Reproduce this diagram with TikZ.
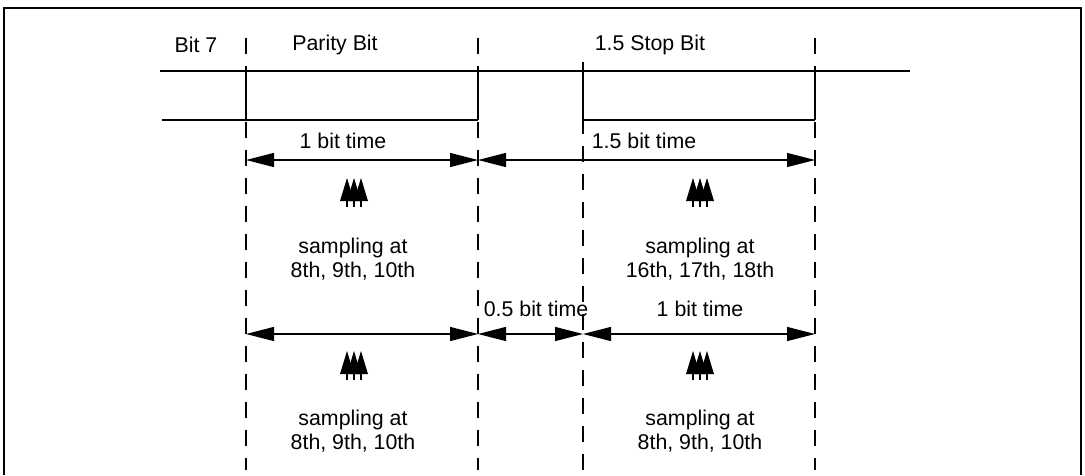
\documentclass[tikz,border=0pt]{standalone}
\usepackage{fontspec}
\setmainfont{Liberation Sans}
\usetikzlibrary{arrows.meta}
\tikzset{
  guide/.style={dash pattern=on 12pt off 9pt, line width=0.9pt},
  signal/.style={line width=1.2pt},
  span/.style={{Triangle[length=21pt,width=10.5pt]}-{Triangle[length=21pt,width=10.5pt]}, line width=0.9pt},
  lbl/.style={inner sep=0.75pt, font=\fontsize{16}{18}\selectfont, align=center}
}
\newcommand{\sampler}[1]{%
  \foreach \dx in {-7,0,7}{
    \fill (#1) ++(\dx,11) -- ++(-7,0) -- ++(7,-23) -- ++(7,23) -- cycle;
    \draw[line width=0.8pt] (#1) ++(\dx,11) -- ++(0,6);
  }}
\begin{document}
\begin{tikzpicture}[x=0.75pt,y=0.75pt,yscale=-1,xscale=1]
\useasboundingbox (0,0) rectangle (1085,475);
% frame
\draw[line width=1.2pt] (4,475) -- (4,8) -- (1081,8) -- (1081,475);
% guide lines
\coordinate (t0) at (246,38);
\coordinate (t1) at (478,38);
\coordinate (t2) at (583,62);
\coordinate (t3) at (815,38);
\draw[guide] (t0) -- (246,470);
\draw[guide] (t1) -- (478,470);
\draw[guide] (t2) -- (583,470);
\draw[guide] (t3) -- (815,470);
% signal
\draw[signal] (160,71) -- (910,71);
\draw[signal] (162,120) -- (478,120) (583,120) -- (815,120);
\draw[signal] (246,71) -- (246,120) (478,71) -- (478,120) (583,71) -- (583,120) (815,71) -- (815,120);
% headings
\node[lbl] (bit7) at (196,45) {Bit 7};
\node[lbl] (par) at (335,45) {Parity Bit};
\node[lbl] (stop) at (650,45) {1.5 Stop Bit};
% spans, first row
\coordinate (a0) at (246,160); \coordinate (a1) at (478,160); \coordinate (a3) at (815,160);
\draw[span] (a0) -- (a1);
\draw[span] (a1) -- (a3);
\node[lbl] (one) at (343,141) {1 bit time};
\node[lbl] (onehalf) at (644,141) {1.5 bit time};
% spans, second row
\coordinate (b0) at (246,334); \coordinate (b1) at (478,334);
\coordinate (b2) at (583,334); \coordinate (b3) at (815,334);
\draw[span] (b0) -- (b1);
\draw[span] (b1) -- (b2);
\draw[span] (b2) -- (b3);
\node[lbl] (half) at (536,309) {0.5 bit time};
\node[lbl] (oneb) at (700,309) {1 bit time};
% sampling marks
\coordinate (s1) at (354,190); \coordinate (s2) at (700,190);
\coordinate (s3) at (354,363); \coordinate (s4) at (700,363);
\sampler{s1} \sampler{s2} \sampler{s3} \sampler{s4}
\node[lbl] (tx1) at (353,259) {sampling at\\8th, 9th, 10th};
\node[lbl] (tx2) at (700,259) {sampling at\\16th, 17th, 18th};
\node[lbl] (tx3) at (353,431) {sampling at\\8th, 9th, 10th};
\node[lbl] (tx4) at (700,431) {sampling at\\8th, 9th, 10th};
\end{tikzpicture}
\end{document}
